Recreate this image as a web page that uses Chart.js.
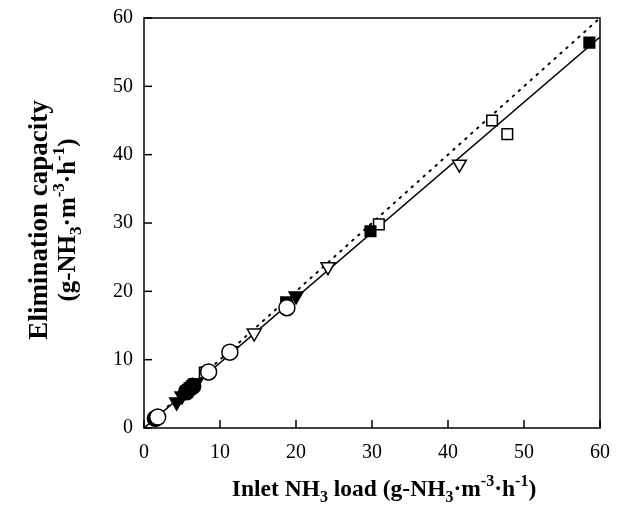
<!DOCTYPE html>
<html>
<head>
<meta charset="utf-8">
<script src="https://cdn.jsdelivr.net/npm/chart.js@4"></script>
<style>
  html, body { margin: 0; padding: 0; background: #fff; }
  #wrap { width: 625px; height: 512px; }
</style>
</head>
<body>
<div id="wrap"><canvas id="chart" width="625" height="512"></canvas></div>
<script>
// Marker series: [inlet load, elimination capacity]
const openCircles = [[1.8, 1.6], [8.5, 8.2], [11.3, 11.1], [18.8, 17.6]];
const filledCircles = [[1.5, 1.4], [5.6, 5.3], [6.4, 6.1]];
const filledTriangles = [[4.3, 3.8], [5.0, 4.7], [6.8, 6.6], [20.0, 19.3]];
const openTriangles = [[11.5, 11.3], [14.5, 13.9], [24.2, 23.6], [41.5, 38.6]];
const filledSquares = [[6.0, 5.8], [18.7, 18.4], [29.8, 28.8], [58.6, 56.4]];
const openSquares = [[8.0, 8.1], [30.9, 29.8], [45.8, 45.0], [47.8, 43.0]];

// Fitted line and 100% removal line
const fitLine = [[0, 0], [60, 57.2]];
const unityLine = [[0, 0], [60, 60]];

const axisTicks = [0, 10, 20, 30, 40, 50, 60];

const toXY = arr => arr.map(p => ({ x: p[0], y: p[1] }));

function markerSet(label, data, style, filled, rotation) {
  return {
    type: 'scatter',
    label,
    data: toXY(data),
    pointStyle: style,
    rotation: rotation || 0,
    pointRadius: style === 'rect' ? 7.5 : 8,
    backgroundColor: filled ? '#000' : '#fff',
    borderColor: '#000',
    borderWidth: 1.5
  };
}

// Draw a line of text with sub/superscripts, centred on (cx, cy)
function drawRich(ctx, parts, cx, cy, size) {
  const small = Math.round(size * 0.68);
  const fontOf = p => `bold ${p.s ? small : size}px "Liberation Serif", "DejaVu Serif", serif`;
  let total = 0;
  parts.forEach(p => { ctx.font = fontOf(p); total += ctx.measureText(p.t).width; });
  let x = cx - total / 2;
  ctx.textBaseline = 'middle';
  ctx.textAlign = 'left';
  parts.forEach(p => {
    ctx.font = fontOf(p);
    let dy = 0;
    if (p.s === 'sub') dy = size * 0.32;
    if (p.s === 'sup') dy = -size * 0.36;
    ctx.fillText(p.t, x, cy + dy);
    x += ctx.measureText(p.t).width;
  });
}

const framePlugin = {
  id: 'frame',
  afterDraw(chart) {
    const { ctx, chartArea: a, scales } = chart;
    ctx.save();
    ctx.strokeStyle = '#000';
    ctx.lineWidth = 1.5;
    ctx.strokeRect(a.left, a.top, a.right - a.left, a.bottom - a.top);
    // inward ticks on bottom and left
    axisTicks.forEach(v => {
      const px = scales.x.getPixelForValue(v);
      ctx.beginPath(); ctx.moveTo(px, a.bottom); ctx.lineTo(px, a.bottom - 8); ctx.stroke();
      const py = scales.y.getPixelForValue(v);
      ctx.beginPath(); ctx.moveTo(a.left, py); ctx.lineTo(a.left + 8, py); ctx.stroke();
    });

    ctx.fillStyle = '#000';
    // x axis title
    drawRich(ctx, [
      { t: 'Inlet NH' }, { t: '3', s: 'sub' }, { t: ' load (g-NH' }, { t: '3', s: 'sub' },
      { t: '·m' }, { t: '-3', s: 'sup' }, { t: '·h' }, { t: '-1', s: 'sup' }, { t: ')' }
    ], 384, 490, 23.5);

    // y axis title, two rotated lines
    ctx.translate(0, 220);
    ctx.rotate(-Math.PI / 2);
    drawRich(ctx, [{ t: 'Elimination capacity' }], 0, 40, 27);
    drawRich(ctx, [
      { t: '(g-NH' }, { t: '3', s: 'sub' }, { t: '·m' }, { t: '-3', s: 'sup' },
      { t: '·h' }, { t: '-1', s: 'sup' }, { t: ')' }
    ], 0, 69, 25);
    ctx.restore();
  }
};

const tickFont = { family: '"Liberation Serif", "DejaVu Serif", serif', size: 20 };

new Chart(document.getElementById('chart'), {
  type: 'scatter',
  data: {
    datasets: [
      markerSet('open circle', openCircles, 'circle', false),
      markerSet('filled circle', filledCircles, 'circle', true),
      markerSet('filled triangle', filledTriangles, 'triangle', true, 180),
      markerSet('open triangle', openTriangles, 'triangle', false, 180),
      markerSet('filled square', filledSquares, 'rect', true),
      markerSet('open square', openSquares, 'rect', false),
      {
        type: 'line', label: 'fit', data: toXY(fitLine),
        borderColor: '#000', borderWidth: 1.5, pointRadius: 0, fill: false
      },
      {
        type: 'line', label: 'unity', data: toXY(unityLine),
        borderColor: '#000', borderWidth: 2, borderDash: [1.5, 6.5], borderCapStyle: 'round',
        pointRadius: 0, fill: false
      }
    ]
  },
  options: {
    responsive: false,
    animation: false,
    layout: { padding: { left: 0, top: 18, right: 25, bottom: 0 } },
    plugins: { legend: { display: false }, tooltip: { enabled: false } },
    scales: {
      x: {
        type: 'linear', min: 0, max: 60,
        afterFit: s => { s.height = 84; },
        afterBuildTicks: s => { s.ticks = axisTicks.map(v => ({ value: v })); },
        grid: { display: false },
        border: { display: false },
        ticks: { color: '#000', font: tickFont, padding: 5, maxRotation: 0 }
      },
      y: {
        type: 'linear', min: 0, max: 60,
        afterFit: s => { s.width = 144; },
        afterBuildTicks: s => { s.ticks = axisTicks.map(v => ({ value: v })); },
        grid: { display: false },
        border: { display: false },
        ticks: { color: '#000', font: tickFont, padding: 3 }
      }
    }
  },
  plugins: [framePlugin]
});
</script>
</body>
</html>
